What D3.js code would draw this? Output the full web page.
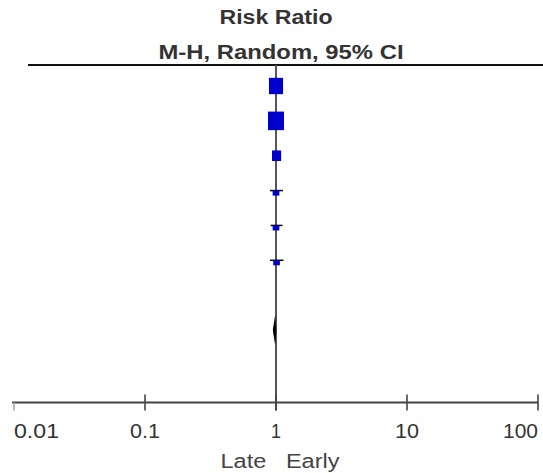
<!DOCTYPE html>
<html>
<head>
<meta charset="utf-8">
<script src="https://d3js.org/d3.v7.min.js"></script>
<style>
  body { margin: 0; background: #fff; }
  svg { display: block; font-family: "Liberation Sans", Arial, sans-serif; }
</style>
</head>
<body>
<div id="chart"></div>
<script>
// study rows (risk ratio + 95% CI, weight in %)
var studies = ["Study 1", "Study 2", "Study 3", "Study 4", "Study 5", "Study 6"];
var rr     = [1.00, 1.00, 1.01, 1.00, 1.00, 1.01];
var lower  = [0.97, 0.96, 0.97, 0.90, 0.91, 0.90];
var upper  = [1.03, 1.04, 1.05, 1.13, 1.12, 1.14];
var weight = [31, 40, 13, 7, 7, 7];
// pooled estimate
var pooled = [0.985, 0.945, 1.005]; // est, lower, upper
var tickValues = [0.01, 0.1, 1, 10, 100];
var tickLabels = ["0.01", "0.1", "1", "10", "100"];

var width = 543, height = 473;
var svg = d3.select('#chart').append('svg').attr('width', width).attr('height', height);

var x = d3.scaleLog().domain([0.01, 100]).range([14, 538]);
var y = d3.scaleLinear().domain([0, 7]).range([86, 330]);
var size = d3.scaleSqrt().domain([0, d3.max(weight)]).range([0, 16]);
var axisY = 402.5;

// text helper: the reference text is a bit stretched sideways
function label(tx, ty, str, fs, bold, len, anchor, col) {
  var t = svg.append('text').attr('x', tx).attr('y', ty)
    .attr('text-anchor', anchor || 'middle')
    .attr('font-size', fs).attr('fill', col || '#333')
    .attr('xml:space', 'preserve')
    .text(str);
  if (bold) t.attr('font-weight', 'bold');
  if (len) t.attr('textLength', len).attr('lengthAdjust', 'spacingAndGlyphs');
  return t;
}

// header
label(x(1), 24, 'Risk Ratio', 20, true, 113);
label(x(1) + 5, 59, 'M-H, Random, 95% CI', 20, true, 245);
svg.append('line').attr('x1', 28).attr('x2', width).attr('y1', 65).attr('y2', 65)
  .attr('stroke', '#111').attr('stroke-width', 1.8);

// line of no effect
svg.append('line').attr('x1', x(1)).attr('x2', x(1)).attr('y1', 65).attr('y2', axisY + 8)
  .attr('stroke', '#555').attr('stroke-width', 2);

// studies
studies.forEach(function(s, i) {
  svg.append('line')
    .attr('x1', x(lower[i])).attr('x2', x(upper[i]))
    .attr('y1', y(i)).attr('y2', y(i))
    .attr('stroke', '#000').attr('stroke-width', 1.5);
  var w = size(weight[i]);
  var small = w < 8;
  svg.append('rect')
    .attr('x', x(rr[i]) - w / 2)
    .attr('y', small ? y(i) : y(i) - w * 0.58)
    .attr('width', w)
    .attr('height', small ? w * 0.75 : w * 1.16)
    .attr('fill', '#0000cc');
});

// pooled diamond
var yc = y(7);
svg.append('path')
  .attr('d', 'M' + x(pooled[1]) + ',' + yc + 'L' + x(pooled[0]) + ',' + (yc - 15) +
             'L' + x(pooled[2]) + ',' + yc + 'L' + x(pooled[0]) + ',' + (yc + 15) + 'Z')
  .attr('fill', '#000');

// axis
svg.append('line').attr('x1', x(0.01) - 2).attr('x2', x(100)).attr('y1', axisY).attr('y2', axisY)
  .attr('stroke', '#444').attr('stroke-width', 2);
var tickLen = [45, 30, 10, 24, 35];
tickValues.forEach(function(t, i) {
  var first = i === 0, last = i === tickValues.length - 1;
  svg.append('line')
    .attr('x1', x(t)).attr('x2', x(t))
    .attr('y1', first ? axisY : axisY - 8)
    .attr('y2', axisY + 8)
    .attr('stroke', first ? '#aaa' : '#444').attr('stroke-width', 1.6);
  label(x(t), 438, tickLabels[i], 20.5, false, tickLen[i],
        first ? 'start' : (last ? 'end' : 'middle'));
});
label(x(1) + 4, 468, 'Late   Early', 20, false, 119, 'middle', '#444');
</script>
</body>
</html>
